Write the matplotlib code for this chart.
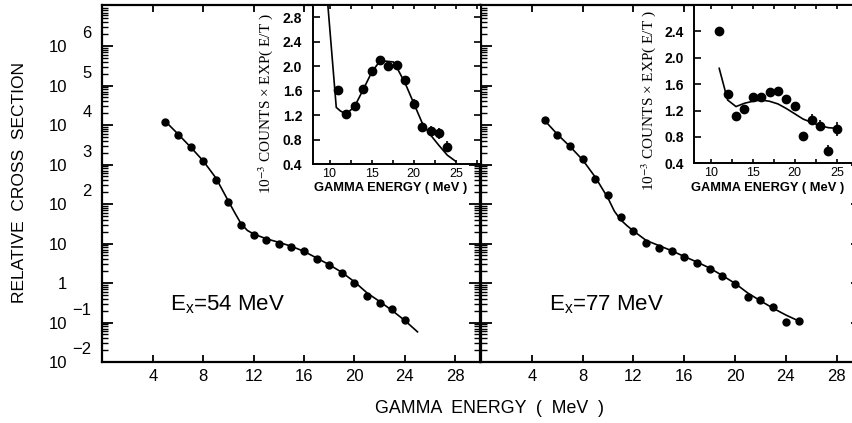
import numpy as np
import matplotlib
matplotlib.use('Agg')
import matplotlib.pyplot as plt
from matplotlib.ticker import LogLocator, FixedLocator, NullFormatter, FuncFormatter, FormatStrFormatter
from matplotlib.transforms import blended_transform_factory

plt.rcParams['font.family'] = ['Liberation Sans', 'DejaVu Sans']
plt.rcParams['mathtext.fontset'] = 'custom'
plt.rcParams['mathtext.rm'] = 'Liberation Sans'
plt.rcParams['mathtext.it'] = 'Liberation Sans:italic'
plt.rcParams['mathtext.bf'] = 'Liberation Sans:bold'
plt.rcParams['axes.unicode_minus'] = True

# ---------------- data ----------------
# main panels: relative cross section vs gamma energy (MeV)
energy_54 = [5, 6, 7, 8, 9, 10, 11, 12, 13, 14, 15, 16, 17, 18, 19, 20, 21, 22, 23, 24]
xsec_54 = [12300, 5750, 2750, 1200, 417, 112, 30.2, 16.2, 12.0, 10.0,
           8.1, 6.3, 4.1, 2.9, 1.8, 1.0, 0.48, 0.32, 0.22, 0.117]
fit_energy_54 = [5, 6, 7, 8, 9, 10, 10.5, 11, 11.5, 12, 13, 14, 15, 16, 17, 18,
                 19, 20, 21, 22, 23, 24, 25]
fit_xsec_54 = [12300, 5890, 2750, 1230, 457, 117, 60, 31.6, 21.4, 17.4, 13.2, 10.7,
               8.5, 6.3, 4.3, 2.9, 1.86, 1.07, 0.56, 0.34, 0.20, 0.112, 0.058]

energy_77 = [5, 6, 7, 8, 9, 10, 11, 12, 13, 14, 15, 16, 17, 18, 19, 20, 21, 22, 23, 24, 25]
xsec_77 = [13200, 5750, 2880, 1380, 437, 166, 47.9, 20.4, 10.2, 7.9, 6.3,
           4.5, 3.3, 2.3, 1.48, 0.93, 0.43, 0.37, 0.245, 0.102, 0.110]
fit_energy_77 = [5, 6, 7, 8, 9, 10, 10.5, 11, 11.5, 12, 13, 14, 15, 16, 17, 18,
                 19, 20, 21, 22, 23, 24, 25]
fit_xsec_77 = [13200, 5890, 2880, 1320, 479, 141, 66, 39.8, 28.2, 20.9, 12.0, 8.9,
               6.6, 4.7, 3.4, 2.4, 1.55, 0.98, 0.56, 0.355, 0.23, 0.155, 0.11]

# insets: 1e-3 counts x exp(E/T)
ins_energy_54 = [11, 12, 13, 14, 15, 16, 17, 18, 19, 20, 21, 22, 23, 24]
ins_counts_54 = [1.62, 1.23, 1.36, 1.63, 1.92, 2.11, 2.00, 2.02, 1.77, 1.39, 1.01, 0.95, 0.91, 0.69]
ins_err_54 = [0.03, 0.03, 0.03, 0.04, 0.04, 0.04, 0.05, 0.05, 0.06, 0.07, 0.08, 0.08, 0.09, 0.09]
ins_fit_energy_54 = [9.8, 10.8, 11.3, 12, 13, 14, 15, 16, 17, 17.6, 18, 19, 20, 21, 22, 23, 24, 25]
ins_fit_counts_54 = [3.0, 1.33, 1.27, 1.22, 1.35, 1.62, 1.90, 2.09, 2.08, 2.07, 1.98, 1.72,
                     1.40, 1.08, 0.88, 0.71, 0.55, 0.45]

ins_energy_77 = [11, 12, 13, 14, 15, 16, 17, 18, 19, 20, 21, 22, 23, 24, 25]
ins_counts_77 = [2.40, 1.45, 1.11, 1.22, 1.40, 1.41, 1.48, 1.50, 1.37, 1.27, 0.81, 1.06, 0.97, 0.59, 0.92]
ins_err_77 = [0.03, 0.03, 0.03, 0.03, 0.03, 0.03, 0.04, 0.04, 0.05, 0.05, 0.07, 0.08, 0.08, 0.08, 0.10]
ins_fit_energy_77 = [11, 12, 13, 14, 15, 16, 17, 18, 19, 20, 21, 22, 23, 24, 25]
ins_fit_counts_77 = [1.84, 1.36, 1.26, 1.31, 1.34, 1.36, 1.34, 1.30, 1.23, 1.15, 1.07, 1.02, 0.97, 0.94, 0.93]

main_xticks = [4, 8, 12, 16, 20, 24, 28]
decades = [-2, -1, 0, 1, 2, 3, 4, 5, 6]
inset_xticks = [10, 15, 20, 25]
inset_xminor = [12.5, 17.5, 22.5, 27.5]
inset_yticks_54 = [0.4, 0.8, 1.2, 1.6, 2.0, 2.4, 2.8]
inset_yticks_77 = [0.4, 0.8, 1.2, 1.6, 2.0, 2.4]
labels_ex = ['E$_\\mathregular{x}$=54 MeV', 'E$_\\mathregular{x}$=77 MeV']

# ---------------- layout ----------------
W, H = 853, 423
fig = plt.figure(figsize=(W / 100, H / 100), dpi=100)


def frac(l, t, r, b):
    return [l / W, 1 - b / H, (r - l) / W, (b - t) / H]


axL = fig.add_axes(frac(102.5, 5, 480.5, 362))
axR = fig.add_axes(frac(481.0, 5, 862.0, 362))

for ax, ex, ey, fx, fy, lab in [(axL, energy_54, xsec_54, fit_energy_54, fit_xsec_54, labels_ex[0]),
                                (axR, energy_77, xsec_77, fit_energy_77, fit_xsec_77, labels_ex[1])]:
    ax.set_yscale('log')
    ax.set_xlim(0, 30)
    ax.set_ylim(1e-2, 10 ** 7.04)
    ax.plot(fx, fy, color='black', lw=1.2)
    ax.plot(ex, ey, 'o', color='black', ms=5)
    ax.xaxis.set_major_locator(FixedLocator(main_xticks))
    ax.yaxis.set_major_locator(FixedLocator([10.0 ** k for k in decades]))
    ax.yaxis.set_minor_locator(LogLocator(base=10, subs=np.arange(2, 10), numticks=30))
    ax.yaxis.set_minor_formatter(NullFormatter())
    ax.tick_params(which='both', direction='in', top=True, right=True, color='black')
    ax.tick_params(axis='y', which='major', length=8, width=1.3)
    ax.tick_params(axis='y', which='minor', length=4.5, width=1.0)
    ax.tick_params(axis='x', which='major', length=5, width=1.3, labelsize=12, pad=5)
    for s in ax.spines.values():
        s.set_linewidth(1.6)
    ax.text(0.178, 0.1457, lab, transform=ax.transAxes, fontsize=16,
            ha='left', va='baseline')

axL.yaxis.set_major_formatter(FuncFormatter(lambda v, p: '1' if abs(v - 1) < 1e-9 else '10'))
axL.tick_params(axis='y', labelsize=12, pad=25.5)
axR.tick_params(axis='y', labelleft=False)

trans = blended_transform_factory(axL.transAxes, axL.transData)
for k in decades:
    if k in (0, 1):
        continue
    axL.annotate(str(k).replace('-', '\u2212'), xy=(0, 10.0 ** k), xycoords=trans,
                 xytext=(-7.8, 8.8), textcoords='offset points',
                 ha='right', va='center', fontsize=12)

fig.text(20 / W, 1 - 182.5 / H, 'RELATIVE  CROSS  SECTION', rotation=90,
         ha='center', va='center', fontsize=12.5)
fig.text(490 / W, 1 - 408 / H, 'GAMMA  ENERGY  (  MeV  )',
         ha='center', va='center', fontsize=12.8)

# ---------------- insets ----------------
inL = fig.add_axes(frac(312.7, 5, 481.0, 164.4))
inR = fig.add_axes(frac(694.0, 5, 862.0, 163.3))

for ins, ex, ey, ee, fx, fy, ylim, yt, lc, xl in [
        (inL, ins_energy_54, ins_counts_54, ins_err_54, ins_fit_energy_54, ins_fit_counts_54,
         (0.4, 3.0), inset_yticks_54, (-0.225, 0.379), (0.462, -0.148)),
        (inR, ins_energy_77, ins_counts_77, ins_err_77, ins_fit_energy_77, ins_fit_counts_77,
         (0.4, 2.8), inset_yticks_77, (-0.212, 0.394), (0.44, -0.156))]:
    ins.set_facecolor('white')
    ins.plot(fx, fy, color='black', lw=1.2)
    ins.errorbar(ex, ey, yerr=ee, fmt='o', color='black', ms=6, elinewidth=1.2, capsize=0)
    ins.set_xlim(8, 28)
    ins.set_ylim(*ylim)
    ins.xaxis.set_major_locator(FixedLocator(inset_xticks))
    ins.xaxis.set_minor_locator(FixedLocator(inset_xminor))
    ins.yaxis.set_major_locator(FixedLocator(yt))
    ins.yaxis.set_major_formatter(FormatStrFormatter('%.1f'))
    ins.tick_params(which='both', direction='in', top=True, right=True, width=1.2)
    ins.tick_params(axis='y', which='major', length=5, labelsize=10, pad=7.5)
    ins.tick_params(axis='x', which='both', length=3, labelsize=9, pad=2.5)
    for t in ins.get_yticklabels():
        t.set_fontweight('bold')
    for s in ins.spines.values():
        s.set_linewidth(1.4)
    ins.set_ylabel('10$^{-3}$ COUNTS \u00d7 EXP( E/T )', fontfamily='Liberation Serif',
                   fontsize=11, math_fontfamily='stix')
    ins.yaxis.set_label_coords(*lc)
    ins.text(xl[0], xl[1], 'GAMMA ENERGY ( MeV )', transform=ins.transAxes,
             ha='center', va='center', fontsize=9.3, fontweight='bold')

fig.savefig('out.png', dpi=100)
